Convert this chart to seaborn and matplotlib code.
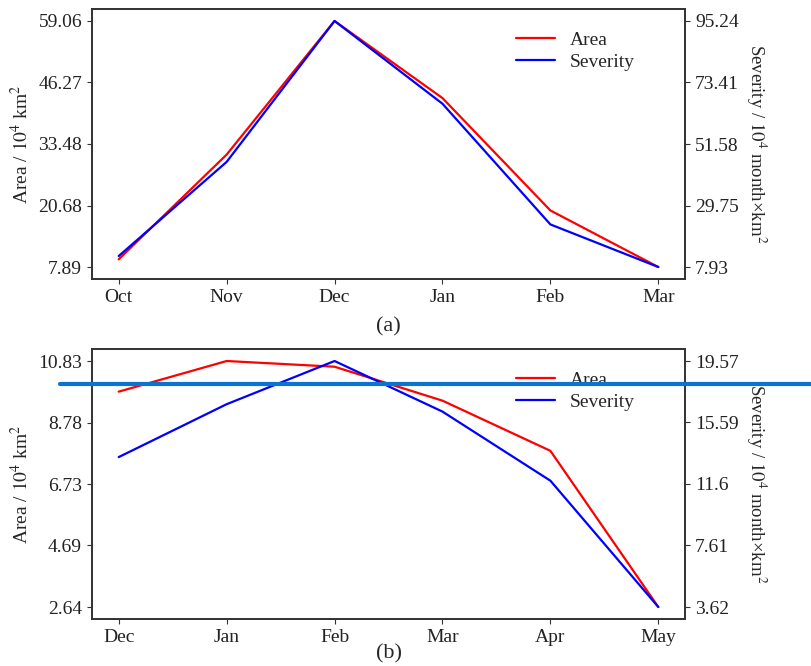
import matplotlib
matplotlib.use("Agg")
import matplotlib.pyplot as plt
from matplotlib.lines import Line2D
import seaborn as sns
import pandas as pd

# ---- data ----
months_a = ["Oct", "Nov", "Dec", "Jan", "Feb", "Mar"]
area_a = [9.49, 31.27, 59.06, 43.02, 19.65, 7.89]
severity_a = [11.82, 45.23, 95.24, 65.87, 23.04, 7.93]
area_ticks_a = [7.89, 20.68, 33.48, 46.27, 59.06]
severity_ticks_a = [7.93, 29.75, 51.58, 73.41, 95.24]

months_b = ["Dec", "Jan", "Feb", "Mar", "Apr", "May"]
area_b = [9.81, 10.83, 10.64, 9.51, 7.84, 2.64]
severity_b = [13.34, 16.77, 19.57, 16.29, 11.81, 3.62]
area_ticks_b = [2.64, 4.69, 6.73, 8.78, 10.83]
severity_ticks_b = [3.62, 7.61, 11.6, 15.59, 19.57]

captions = ["(a)", "(b)"]

sns.set_style("ticks")
plt.rcParams["font.family"] = ["Liberation Serif", "DejaVu Serif"]
plt.rcParams["mathtext.fontset"] = "stix"
plt.rcParams["axes.edgecolor"] = "#333333"
plt.rcParams["axes.linewidth"] = 1.25
plt.rcParams["xtick.color"] = "#333333"
plt.rcParams["ytick.color"] = "#333333"
plt.rcParams["xtick.labelcolor"] = "#222222"
plt.rcParams["ytick.labelcolor"] = "#222222"

FS = 14
fig = plt.figure(figsize=(8.11, 6.66), dpi=100)
ax_a = fig.add_axes([0.1131, 0.5806, 0.7319, 0.4064])
ax_b = fig.add_axes([0.1131, 0.0701, 0.7319, 0.4063])

panels = [
    (ax_a, months_a, area_a, severity_a, area_ticks_a, severity_ticks_a, captions[0], 8),
    (ax_b, months_b, area_b, severity_b, area_ticks_b, severity_ticks_b, captions[1], -1),
]

for ax, months, area, sev, aticks, sticks, cap, lpad in panels:
    df = pd.DataFrame({"pos": list(range(len(months))), "Area": area, "Severity": sev})
    sns.lineplot(data=df, x="pos", y="Area", ax=ax, color="red", lw=1.6, label="Area", legend=False)
    ax2 = ax.twinx()
    sns.lineplot(data=df, x="pos", y="Severity", ax=ax2, color="blue", lw=1.6, label="Severity", legend=False)
    ax.set_xticks(df["pos"])
    ax.set_xticklabels(months, fontsize=FS)
    ax.set_yticks(aticks)
    ax.set_yticklabels([f"{v:g}" for v in aticks], fontsize=FS)
    ax2.set_yticks(sticks)
    ax2.set_yticklabels([f"{v:g}" for v in sticks], fontsize=FS)
    ax.set_ylabel("Area / $10^4$ km$^2$", fontsize=FS)
    ax2.set_ylabel("Severity / $10^4$ month×km$^2$", fontsize=13.5, rotation=270, va="bottom", labelpad=4)
    ax.set_xlabel(cap, fontsize=FS + 2, labelpad=lpad)
    for a in (ax, ax2):
        for s in a.spines.values():
            s.set_visible(True)
            s.set_linewidth(1.25)
            s.set_color("#333333")
    h1, l1 = ax.get_legend_handles_labels()
    h2, l2 = ax2.get_legend_handles_labels()
    ax2.legend(h1 + h2, l1 + l2, loc="upper right", bbox_to_anchor=(0.945, 0.982),
               frameon=False, fontsize=FS, handlelength=2.0, labelspacing=0.22)

# stray horizontal rule across the lower panel
fig.add_artist(Line2D([60 / 811, 1.0], [1 - 383.7 / 666, 1 - 383.7 / 666],
                      transform=fig.transFigure, color="#0a74d0", lw=3.0, zorder=10))

fig.savefig("out.png", dpi=100)
